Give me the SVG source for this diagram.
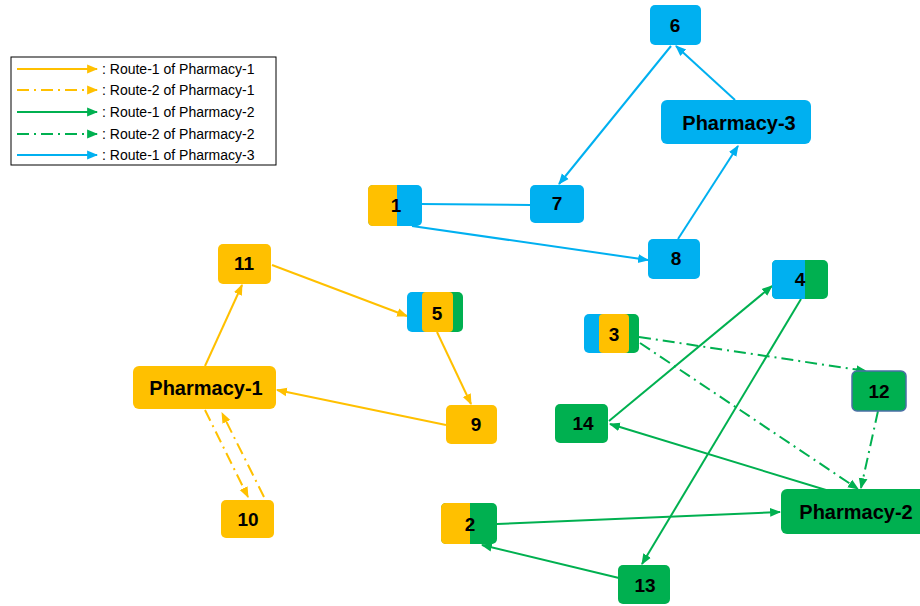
<svg xmlns="http://www.w3.org/2000/svg" width="920" height="606" viewBox="0 0 920 606">
<style>
.lbl{font-family:"Liberation Sans",Arial,sans-serif;font-weight:bold;font-size:19px;fill:#000;text-anchor:middle;dominant-baseline:central}
.ph{font-size:20px}
.lg{font-family:"Liberation Sans",Arial,sans-serif;font-size:14px;fill:#000;dominant-baseline:central}
.c{fill:none;stroke-width:2}
.y{stroke:#FFC000}
.b{stroke:#00B0F0}
.g{stroke:#00B050}
.dd{stroke-dasharray:12 5 2 5}
.fy{fill:#FFC000}
.fb{fill:#00B0F0}
.fg{fill:#00B050}
</style>
<defs>
<marker id="ay" viewBox="0 0 10 10" refX="9" refY="5" markerWidth="11" markerHeight="11" markerUnits="userSpaceOnUse" orient="auto"><path d="M0,1 L10,5 L0,9 Z" fill="#FFC000"/></marker>
<marker id="ab" viewBox="0 0 10 10" refX="9" refY="5" markerWidth="11" markerHeight="11" markerUnits="userSpaceOnUse" orient="auto"><path d="M0,1 L10,5 L0,9 Z" fill="#00B0F0"/></marker>
<marker id="ag" viewBox="0 0 10 10" refX="9" refY="5" markerWidth="11" markerHeight="11" markerUnits="userSpaceOnUse" orient="auto"><path d="M0,1 L10,5 L0,9 Z" fill="#00B050"/></marker>
</defs>

<g id="legend">
<rect x="11" y="57" width="265" height="108" fill="#fff" stroke="#000" stroke-width="1"/>
<line class="c y" x1="17" y1="69" x2="97" y2="69" marker-end="url(#ay)"/>
<line class="c y dd" x1="17" y1="90" x2="97" y2="90" marker-end="url(#ay)"/>
<line class="c g" x1="17" y1="112" x2="97" y2="112" marker-end="url(#ag)"/>
<line class="c g dd" x1="17" y1="134" x2="97" y2="134" marker-end="url(#ag)"/>
<line class="c b" x1="17" y1="155" x2="97" y2="155" marker-end="url(#ab)"/>
<text class="lg" x="102" y="69">: Route-1 of Pharmacy-1</text>
<text class="lg" x="102" y="90">: Route-2 of Pharmacy-1</text>
<text class="lg" x="102" y="112">: Route-1 of Pharmacy-2</text>
<text class="lg" x="102" y="134">: Route-2 of Pharmacy-2</text>
<text class="lg" x="102" y="155">: Route-1 of Pharmacy-3</text>
</g>

<g id="connectors">
<line class="c b" x1="735" y1="100" x2="676" y2="46" marker-end="url(#ab)"/>
<line class="c b" x1="671" y1="46" x2="559" y2="184" marker-end="url(#ab)"/>
<line class="c b" x1="420" y1="204" x2="531" y2="205"/>
<line class="c b" x1="412" y1="226" x2="648" y2="260" marker-end="url(#ab)"/>
<line class="c b" x1="678" y1="239" x2="738" y2="146" marker-end="url(#ab)"/>

<line class="c y" x1="205" y1="366" x2="242" y2="285" marker-end="url(#ay)"/>
<line class="c y" x1="272" y1="265" x2="407" y2="316" marker-end="url(#ay)"/>
<line class="c y" x1="437" y1="332" x2="471" y2="404" marker-end="url(#ay)"/>
<line class="c y" x1="446" y1="425" x2="277" y2="390" marker-end="url(#ay)"/>
<line class="c y dd" x1="205" y1="410" x2="248" y2="497" marker-end="url(#ay)"/>
<line class="c y dd" x1="264" y1="497" x2="222" y2="413" marker-end="url(#ay)"/>

<line class="c g" x1="497" y1="524" x2="780" y2="512" marker-end="url(#ag)"/>
<line class="c g" x1="826" y1="490" x2="610" y2="424" marker-end="url(#ag)"/>
<line class="c g" x1="609" y1="421" x2="772" y2="286" marker-end="url(#ag)"/>
<line class="c g" x1="801" y1="299" x2="642" y2="564" marker-end="url(#ag)"/>
<line class="c g" x1="619" y1="578" x2="482" y2="545" marker-end="url(#ag)"/>
<line class="c g dd" x1="639" y1="337" x2="866" y2="371" marker-end="url(#ag)"/>
<line class="c g dd" x1="640" y1="343" x2="858" y2="489" marker-end="url(#ag)"/>
<line class="c g dd" x1="878" y1="411" x2="861" y2="488" marker-end="url(#ag)"/>
</g>

<g id="node-6"><rect class="fb" x="650" y="5" width="51" height="40" rx="5"/><text class="lbl" x="675" y="25">6</text></g>
<g id="node-pharmacy-3"><rect class="fb" x="661" y="100" width="150" height="44" rx="6"/><text class="lbl ph" x="739" y="123">Pharmacy-3</text></g>
<g id="node-7"><rect class="fb" x="530" y="185" width="54" height="38" rx="5"/><text class="lbl" x="557" y="203">7</text></g>
<g id="node-1"><rect class="fb" x="368" y="185" width="54" height="41" rx="5"/><path class="fy" d="M373,185 H397 V226 H373 Q368,226 368,221 V190 Q368,185 373,185 Z"/><text class="lbl" x="396" y="205">1</text></g>
<g id="node-8"><rect class="fb" x="648" y="239" width="52" height="40" rx="5"/><text class="lbl" x="676" y="258">8</text></g>
<g id="node-11"><rect class="fy" x="218" y="244" width="53" height="40" rx="5"/><text class="lbl" x="244" y="263">11</text></g>
<g id="node-5"><rect class="fb" x="407" y="292" width="30" height="40" rx="5"/><rect class="fg" x="437" y="292" width="26" height="40" rx="5"/><rect class="fy" x="422" y="292" width="31" height="40" rx="4"/><text class="lbl" x="437" y="313">5</text></g>
<g id="node-pharmacy-1"><rect class="fy" x="133" y="366" width="143" height="43" rx="6"/><text class="lbl ph" x="206" y="388">Pharmacy-1</text></g>
<g id="node-9"><rect class="fy" x="446" y="405" width="51" height="39" rx="5"/><text class="lbl" x="476" y="424">9</text></g>
<g id="node-10"><rect class="fy" x="221" y="500" width="53" height="38" rx="5"/><text class="lbl" x="248" y="519">10</text></g>
<g id="node-3"><rect class="fb" x="584" y="314" width="30" height="39" rx="5"/><rect class="fg" x="614" y="314" width="25" height="39" rx="5"/><rect class="fy" x="599" y="314" width="30" height="39" rx="4"/><text class="lbl" x="614" y="334">3</text></g>
<g id="node-4"><rect class="fg" x="772" y="260" width="56" height="39" rx="5"/><path class="fb" d="M777,260 H805 V299 H777 Q772,299 772,294 V265 Q772,260 777,260 Z"/><text class="lbl" x="800" y="279">4</text></g>
<g id="node-14"><rect class="fg" x="555" y="404" width="53" height="39" rx="5"/><text class="lbl" x="583" y="423">14</text></g>
<g id="node-12"><rect class="fg" x="852" y="371" width="54" height="40" rx="5" stroke="#4A6FA5" stroke-width="1.5"/><text class="lbl" x="879" y="391">12</text></g>
<g id="node-pharmacy-2"><rect class="fg" x="781" y="489" width="150" height="45" rx="6"/><text class="lbl ph" x="856" y="512">Pharmacy-2</text></g>
<g id="node-2"><rect class="fg" x="441" y="503" width="56" height="41" rx="5"/><path class="fy" d="M446,503 H470 V544 H446 Q441,544 441,539 V508 Q441,503 446,503 Z"/><text class="lbl" x="470" y="524">2</text></g>
<g id="node-13"><rect class="fg" x="618" y="565" width="52" height="39" rx="5"/><text class="lbl" x="645" y="585">13</text></g>
</svg>
